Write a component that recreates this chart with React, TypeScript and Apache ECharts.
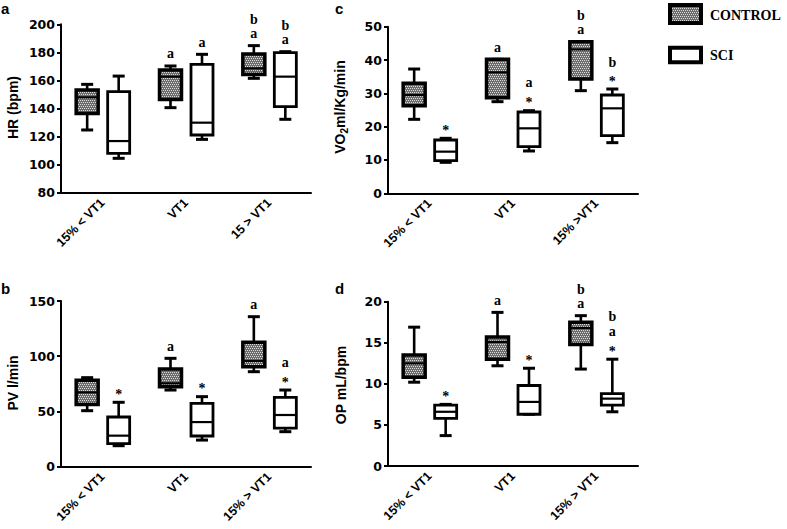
import React, { useEffect, useRef } from "react";
import * as echarts from "echarts";

// ---------- data ----------
const catsA = ["15% < VT1", "VT1", "15 > VT1"];
const catsB = ["15% < VT1", "VT1", "15% > VT1"];
const catsC = ["15% < VT1", "VT1", "15% >VT1"];
const catsD = ["15% < VT1", "VT1", "15% > VT1"];

// each box: [min, Q1, median, Q3, max]
const hrControl = [
  [124.7, 136.5, 148.0, 153.2, 157.2],
  [140.6, 146.5, 162.7, 167.4, 170.3],
  [161.5, 164.3, 168.6, 178.8, 184.8],
];
const hrSci = [
  [104.5, 108.0, 116.8, 152.0, 163.1],
  [118.0, 121.1, 129.9, 171.4, 178.6],
  [132.3, 141.3, 162.7, 179.8, 180.5],
];
const pvControl = [
  [50.7, 56.4, 67.3, 78.2, 80.6],
  [69.4, 72.4, 75.5, 88.4, 98.1],
  [86.0, 90.5, 95.7, 112.6, 135.8],
];
const pvSci = [
  [19.0, 20.8, 28.1, 45.0, 58.3],
  [24.1, 27.8, 40.4, 57.3, 63.4],
  [31.7, 35.0, 46.8, 62.8, 69.4],
];
const vo2Control = [
  [22.2, 26.3, 29.5, 33.0, 37.3],
  [27.5, 28.7, 36.3, 40.2, 40.2],
  [30.8, 34.3, 43.2, 45.5, 45.5],
];
const vo2Sci = [
  [9.3, 9.8, 12.5, 16.0, 16.5],
  [12.7, 14.0, 19.5, 24.4, 24.8],
  [15.2, 17.3, 25.5, 29.5, 31.3],
];
const opControl = [
  [10.2, 10.8, 12.5, 13.5, 16.9],
  [12.2, 13.0, 15.1, 15.7, 18.7],
  [11.8, 14.8, 16.8, 17.5, 18.3],
];
const opSci = [
  [3.7, 5.8, 6.6, 7.4, 7.5],
  [6.3, 6.3, 7.8, 9.8, 11.9],
  [6.6, 7.4, 8.2, 8.8, 13.0],
];

// significance marks above each box, listed bottom to top
const sigHrControl = [[], ["a"], ["a", "b"]];
const sigHrSci = [[], ["a"], ["a", "b"]];
const sigPvControl = [[], ["a"], ["a"]];
const sigPvSci = [["*"], ["*"], ["*", "a"]];
const sigVo2Control = [[], ["a"], ["a", "b"]];
const sigVo2Sci = [["*"], ["*", "a"], ["*", "b"]];
const sigOpControl = [[], ["a"], ["a", "b"]];
const sigOpSci = [["*"], ["*"], ["*", "a", "b"]];

// y axis scales: [min, max, step]
const hrScale = [80, 200, 20];
const pvScale = [0, 150, 50];
const vo2Scale = [0, 50, 10];
const opScale = [0, 20, 5];

const legendNames = ["CONTROL", "SCI"];

// ---------- layout ----------
const panels = [
  { cats: catsA, control: hrControl, sci: hrSci, sigC: sigHrControl, sigS: sigHrSci, scale: hrScale,
    grid: { left: 61, top: 24.3, width: 250, height: 168.4 },
    title: "HR (bpm)", titlePos: [13, 107.5], letter: "a", letterPos: [1, 1] },
  { cats: catsB, control: pvControl, sci: pvSci, sigC: sigPvControl, sigS: sigPvSci, scale: pvScale,
    grid: { left: 61, top: 301, width: 250, height: 165.7 },
    title: "PV l/min", titlePos: [12.5, 383], letter: "b", letterPos: [1, 280.5] },
  { cats: catsC, control: vo2Control, sci: vo2Sci, sigC: sigVo2Control, sigS: sigVo2Sci, scale: vo2Scale,
    grid: { left: 388, top: 26.7, width: 250, height: 166.6 },
    title: "{n|VO}{s|2}{n|ml/Kg/min}", titlePos: [341, 107], letter: "c", letterPos: [335, 1] },
  { cats: catsD, control: opControl, sci: opSci, sigC: sigOpControl, sigS: sigOpSci, scale: opScale,
    grid: { left: 388, top: 301.7, width: 250, height: 164.3 },
    title: "OP mL/bpm", titlePos: [341, 385], letter: "d", letterPos: [335, 280.5] },
];

function makePattern(): any {
  const c = document.createElement("canvas");
  c.width = 4;
  c.height = 4;
  const ctx = c.getContext("2d")!;
  ctx.fillStyle = "#6c6c6c";
  ctx.fillRect(0, 0, 4, 4);
  ctx.fillStyle = "#dcdcdc";
  [[0, 0], [2, 0], [1, 2], [3, 2]].forEach(([x, y]) => ctx.fillRect(x, y, 1, 1));
  return { image: c, repeat: "repeat", imageWidth: 4, imageHeight: 4 };
}

const sigShift: Record<string, number> = { "*": 2.5, a: -1.5, b: 0 };

function buildOption() {
  const pattern = makePattern();
  const grids: any[] = [];
  const xAxes: any[] = [];
  const yAxes: any[] = [];
  const series: any[] = [];
  const graphics: any[] = [];

  panels.forEach((p, k) => {
    grids.push({ ...p.grid, containLabel: false, outerBoundsMode: "none" });
    xAxes.push({
      type: "category",
      gridIndex: k,
      data: p.cats,
      axisLine: { lineStyle: { color: "#000", width: 2 } },
      axisTick: { alignWithLabel: true, length: 5, lineStyle: { color: "#000", width: 2 } },
      axisLabel: {
        interval: 0, rotate: 45, margin: 8, color: "#000",
        fontFamily: "Liberation Sans", fontWeight: "bold", fontSize: 12.5,
      },
      splitLine: { show: false },
    });
    yAxes.push({
      type: "value",
      gridIndex: k,
      min: p.scale[0],
      max: p.scale[1],
      interval: p.scale[2],
      axisLine: { show: true, lineStyle: { color: "#000", width: 2 } },
      axisTick: { show: true, length: 4, lineStyle: { color: "#000", width: 2 } },
      axisLabel: {
        margin: 6, color: "#000",
        fontFamily: "DejaVu Sans", fontWeight: "bold", fontSize: 12.5,
      },
      splitLine: { show: false },
    });

    const rows: number[][] = [];
    const sigs: string[][] = [];
    for (let i = 0; i < p.cats.length; i++) {
      rows.push([i, 0, ...p.control[i]]);
      sigs.push(p.sigC[i]);
      rows.push([i, 1, ...p.sci[i]]);
      sigs.push(p.sigS[i]);
    }

    series.push({
      type: "custom",
      name: "panel" + k,
      xAxisIndex: k,
      yAxisIndex: k,
      clip: false,
      encode: { x: 0, y: [2, 3, 4, 5, 6] },
      data: rows,
      renderItem: (params: any, api: any) => {
        const cat = api.value(0);
        const grp = api.value(1);
        const yv = (v: number) => api.coord([cat, v])[1];
        const cx = api.coord([cat, api.value(4)])[0] + (grp === 0 ? -15.5 : 16);
        const yMin = yv(api.value(2));
        const yQ1 = yv(api.value(3));
        const yMd = yv(api.value(4));
        const yQ3 = yv(api.value(5));
        const yMx = yv(api.value(6));
        const half = 11;
        const cap = 6;
        const lw = grp === 0 ? 3.5 : 2.8;
        const stroke = { stroke: "#000", lineWidth: 2.6 };
        const capStroke = { stroke: "#000", lineWidth: 3 };
        const children: any[] = [
          { type: "line", shape: { x1: cx, y1: yQ3, x2: cx, y2: yMx }, style: stroke },
          { type: "line", shape: { x1: cx - cap, y1: yMx, x2: cx + cap, y2: yMx }, style: capStroke },
          { type: "line", shape: { x1: cx, y1: yQ1, x2: cx, y2: yMin }, style: stroke },
          { type: "line", shape: { x1: cx - cap, y1: yMin, x2: cx + cap, y2: yMin }, style: capStroke },
          {
            type: "rect",
            shape: { x: cx - half, y: yQ3, width: half * 2, height: yQ1 - yQ3 },
            style: { fill: grp === 0 ? pattern : "#fff", stroke: "#000", lineWidth: lw },
          },
          { type: "line", shape: { x1: cx - half, y1: yMd, x2: cx + half, y2: yMd }, style: { stroke: "#000", lineWidth: 2.2 } },
        ];
        const marks = sigs[params.dataIndex] || [];
        marks.forEach((t: string, i: number) => {
          const vc = yMx - 10.5 - 16 * i;
          children.push({
            type: "text",
            x: cx,
            y: vc + (sigShift[t] ?? 0),
            style: {
              text: t, align: "center", verticalAlign: "middle", fill: "#000",
              fontFamily: "Liberation Serif", fontWeight: "bold", fontSize: 14,
            },
          });
        });
        return { type: "group", children };
      },
    });

    graphics.push({
      type: "text",
      x: p.titlePos[0],
      y: p.titlePos[1],
      rotation: Math.PI / 2,
      style: {
        text: p.title,
        align: "center",
        verticalAlign: "middle",
        fill: "#000",
        fontFamily: "Liberation Sans",
        fontWeight: "bold",
        fontSize: 14,
        rich: {
          n: { fontFamily: "Liberation Sans", fontWeight: "bold", fontSize: 14, fill: "#000", verticalAlign: "top", lineHeight: 16 },
          s: { fontFamily: "Liberation Sans", fontWeight: "bold", fontSize: 10, fill: "#000", verticalAlign: "top", padding: [6, 0, 0, 0] },
        },
      },
    });
    graphics.push({
      type: "text",
      x: p.letterPos[0],
      y: p.letterPos[1],
      style: {
        text: p.letter, align: "left", verticalAlign: "top", fill: "#000",
        fontFamily: "Liberation Sans", fontWeight: "bold", fontSize: 15,
      },
    });
  });

  // legend
  graphics.push(
    { type: "rect", shape: { x: 670, y: 5, width: 31, height: 18 }, style: { fill: pattern, stroke: "#000", lineWidth: 4 } },
    { type: "rect", shape: { x: 670, y: 47.7, width: 31, height: 14.6 }, style: { fill: "#fff", stroke: "#000", lineWidth: 4 } },
    {
      type: "text", x: 710, y: 15,
      style: { text: legendNames[0], align: "left", verticalAlign: "middle", fill: "#000", fontFamily: "Liberation Serif", fontWeight: "bold", fontSize: 14 },
    },
    {
      type: "text", x: 710, y: 55,
      style: { text: legendNames[1], align: "left", verticalAlign: "middle", fill: "#000", fontFamily: "Liberation Serif", fontWeight: "bold", fontSize: 14 },
    }
  );

  return {
    animation: false,
    backgroundColor: "#fff",
    grid: grids,
    xAxis: xAxes,
    yAxis: yAxes,
    series,
    graphic: { elements: graphics },
  };
}

export default function App() {
  const ref = useRef<HTMLDivElement>(null);
  useEffect(() => {
    const chart = echarts.init(ref.current!, null, { renderer: "svg" });
    chart.setOption(buildOption() as any);
    return () => chart.dispose();
  }, []);
  return (
    <div
      ref={ref}
      style={{ position: "absolute", left: 0, top: 0, width: 787, height: 529, background: "#fff" }}
    />
  );
}
